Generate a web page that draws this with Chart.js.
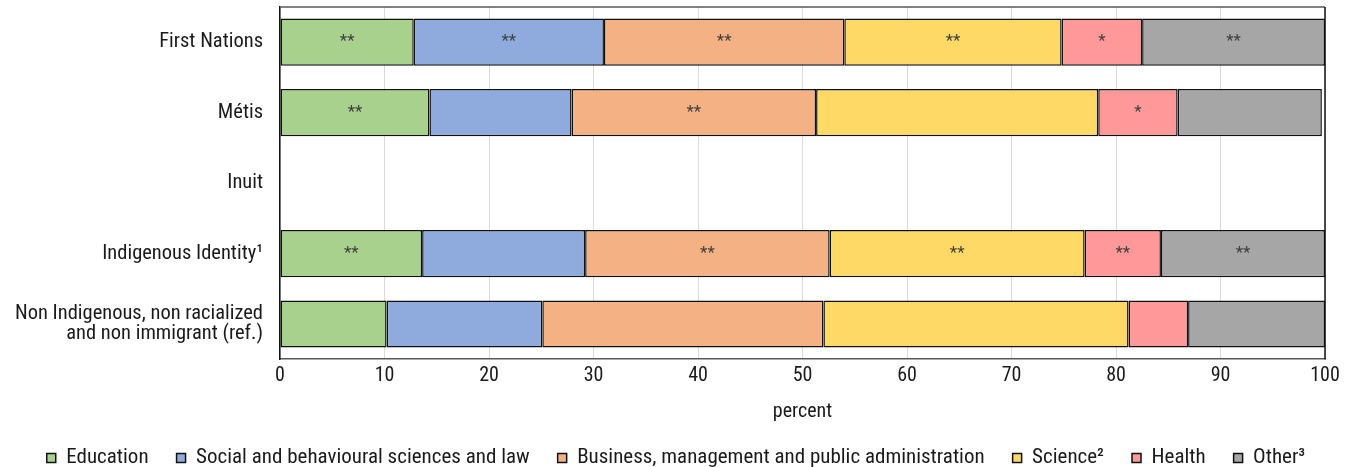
<!DOCTYPE html>
<html lang="en">
<head>
    <meta charset="UTF-8">
    <title>Field of study by Indigenous identity</title>
    <script src="https://cdn.jsdelivr.net/npm/chart.js"></script>
    <style>
        body { margin: 0; background: #fff; }
        #wrap { width: 1352px; height: 467px; }
    </style>
</head>
<body>
<div id="wrap"><canvas id="fieldChart" width="1352" height="467"></canvas></div>
<script>
    const categories = [
        'First Nations',
        'Métis',
        'Inuit',
        'Indigenous Identity¹',
        ['Non Indigenous, non racialized', 'and non immigrant (ref.)']
    ];
    const seriesNames = ['Education', 'Social and behavioural sciences and law',
        'Business, management and public administration', 'Science²', 'Health', 'Other³'];

    // percent
    const education = [12.8, 14.3, null, 13.6, 10.2];
    const social    = [18.2, 13.6, null, 15.6, 14.9];
    const business  = [23.0, 23.4, null, 23.4, 26.9];
    const science   = [20.8, 27.0, null, 24.4, 29.2];
    const health    = [7.7, 7.6, null, 7.3, 5.7];
    const other     = [17.5, 13.8, null, 15.7, 13.1];

    // significance markers shown inside the bars
    const sigEducation = ['**', '**', '', '**', ''];
    const sigSocial    = ['**', '', '', '', ''];
    const sigBusiness  = ['**', '**', '', '**', ''];
    const sigScience   = ['**', '', '', '**', ''];
    const sigHealth    = ['*', '*', '', '**', ''];
    const sigOther     = ['**', '', '', '**', ''];

    const xTicks = [0, 10, 20, 30, 40, 50, 60, 70, 80, 90, 100];

    const colors = ['#a9d18e', '#8faadc', '#f4b183', '#ffd966', '#ff9999', '#a6a6a6'];
    const values = [education, social, business, science, health, other];
    const sigs = [sigEducation, sigSocial, sigBusiness, sigScience, sigHealth, sigOther];

    const FONT = "'Liberation Sans Narrow', 'Roboto Condensed', Roboto, sans-serif";
    Chart.defaults.font.family = FONT;
    Chart.defaults.color = '#1a1a1a';

    // frame around the plot + star markers
    const extras = {
        id: 'extras',
        afterDatasetsDraw(chart) {
            const ctx = chart.ctx;
            const a = chart.chartArea;
            ctx.save();
            ctx.lineWidth = 1.5;
            ctx.strokeStyle = '#595959';
            ctx.beginPath();
            ctx.moveTo(a.left, a.top);
            ctx.lineTo(a.right, a.top);
            ctx.stroke();
            ctx.strokeStyle = '#111';
            ctx.beginPath();
            ctx.moveTo(a.right, a.top);
            ctx.lineTo(a.right, a.bottom);
            ctx.stroke();

            ctx.font = '17px ' + FONT;
            ctx.fillStyle = '#404040';
            ctx.textAlign = 'center';
            ctx.textBaseline = 'middle';
            chart.data.datasets.forEach((ds, i) => {
                chart.getDatasetMeta(i).data.forEach((bar, j) => {
                    const txt = sigs[i][j];
                    if (!txt || ds.data[j] == null) return;
                    ctx.fillText(txt, (bar.x + bar.base) / 2, bar.y);
                });
            });
            ctx.restore();
        }
    };

    new Chart(document.getElementById('fieldChart'), {
        type: 'bar',
        data: {
            labels: categories,
            datasets: values.map((v, i) => ({
                label: seriesNames[i],
                data: v,
                backgroundColor: colors[i],
                borderColor: '#111',
                borderWidth: 1.5,
                borderSkipped: false,
                barPercentage: 0.67,
                categoryPercentage: 1
            }))
        },
        options: {
            indexAxis: 'y',
            responsive: false,
            animation: false,
            layout: { padding: { top: 7, right: 0, bottom: -11.6, left: 0 } },
            scales: {
                x: {
                    stacked: true,
                    min: 0,
                    max: 100,
                    afterBuildTicks: s => { s.ticks = xTicks.map(v => ({ value: v })); },
                    grid: { color: '#d9d9d9', lineWidth: 1, drawTicks: false },
                    border: { color: '#595959', width: 1.5 },
                    ticks: { font: { size: 20 }, padding: 5 },
                    title: { display: true, text: 'percent', font: { size: 20 }, padding: { top: 0, bottom: -4 } },
                    afterFit: s => { s.height = 60.4; }
                },
                y: {
                    stacked: true,
                    grid: { display: false, drawTicks: false },
                    border: { color: '#111', width: 1.5 },
                    ticks: { font: { size: 20.5, lineHeight: 0.95 }, padding: 17 },
                    afterFit: s => { s.width = 280; s.paddingTop = 0; s.paddingBottom = 0; }
                },
                // empty spacer on the right so the plot ends at 100 = x 1325
                spacer: {
                    axis: 'y',
                    position: 'right',
                    grid: { display: false, drawTicks: false },
                    border: { display: false },
                    ticks: { display: false },
                    afterFit: s => { s.width = 27; s.paddingTop = 0; s.paddingBottom = 0; }
                }
            },
            plugins: {
                legend: {
                    position: 'bottom',
                    labels: {
                        boxWidth: 9,
                        boxHeight: 9,
                        font: { size: 21 },
                        padding: 28
                    }
                },
                tooltip: { enabled: false }
            }
        },
        plugins: [extras]
    });
</script>
</body>
</html>
